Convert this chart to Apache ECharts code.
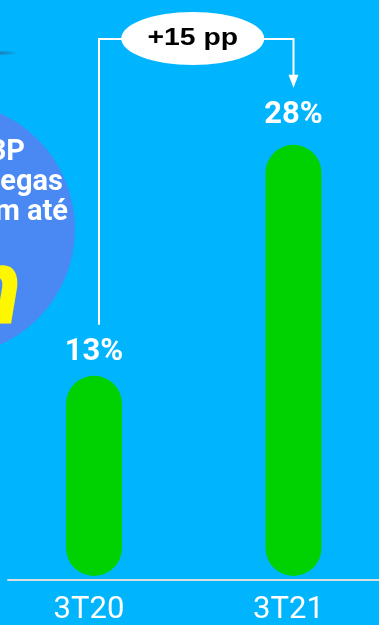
<!DOCTYPE html>
<html>
<head>
<meta charset="utf-8">
<script src="https://cdn.jsdelivr.net/npm/echarts@6/dist/echarts.min.js"></script>
<style>
  html, body { margin: 0; padding: 0; background: #00B5FE; }
  #chart { width: 379px; height: 625px; }
</style>
</head>
<body>
<div id="chart"></div>
<script>
// Quarterly share values (%)
const categories = ['3T20', '3T21'];
const shares = [13, 28];
const deltaText = '+15 pp';
// label gap above each bar (px)
const labelGaps = [8, 14];

// Decorative badge text on the left
const badgeLines = ['3P', 'egas', 'm até'];
const badgeHighlight = 'n';

const BG = '#00B5FE';
const GREEN = '#00D100';

const chart = echarts.init(document.getElementById('chart'), null, { renderer: 'canvas' });

const option = {
  backgroundColor: BG,
  animation: false,
  grid: [
    { left: -5.75, width: 399, top: 0, bottom: 49, outerBoundsMode: 'none', containLabel: false },
    { left: 8, right: 0, top: 0, bottom: 45, outerBoundsMode: 'none', containLabel: false }
  ],
  xAxis: [
    {
      type: 'category',
      gridIndex: 0,
      data: categories,
      axisLine: { show: false },
      axisTick: { show: false },
      axisLabel: {
        color: '#FFFFFF',
        fontFamily: 'Roboto',
        fontSize: 31,
        fontWeight: 'normal',
        margin: 19,
        padding: [0, 10, 0, 0]
      }
    },
    {
      type: 'category',
      gridIndex: 1,
      data: categories,
      axisLine: { show: true, lineStyle: { color: '#D9DEE3', width: 2 } },
      axisTick: { show: false },
      axisLabel: { show: false }
    }
  ],
  yAxis: [
    { type: 'value', gridIndex: 0, min: 0, max: 37.4, show: false, splitLine: { show: false } },
    { type: 'value', gridIndex: 1, show: false, splitLine: { show: false } }
  ],
  series: [
    {
      type: 'bar',
      xAxisIndex: 0,
      yAxisIndex: 0,
      barWidth: 56,
      data: shares.map((v, i) => ({
        value: v,
        label: { distance: labelGaps[i] }
      })),
      itemStyle: { color: GREEN, borderRadius: 28 },
      label: {
        show: true,
        position: 'top',
        color: '#FFFFFF',
        fontFamily: 'Roboto',
        fontWeight: 'bold',
        fontSize: 31,
        formatter: p => p.value + '%'
      }
    }
  ]
};

chart.setOption(option);

// Bracket connecting the two bars, with the change badge on top
const a = chart.convertToPixel({ gridIndex: 0 }, [0, shares[0]]);
const b = chart.convertToPixel({ gridIndex: 0 }, [1, shares[1]]);
const headY = 39;
const xLeft = a[0] + 5;
const xRight = b[0];
const leftEnd = a[1] - 51;
const arrowTip = b[1] - 57;
const arrowH = 13;
const midX = (a[0] + b[0]) / 2;

// baseline -> y for 'middle' aligned Roboto text
const mid = (baseline, size) => baseline - 0.35 * size;

const graphics = [
  // left badge disc
  {
    type: 'circle',
    z: 0,
    shape: { cx: -52, cy: 229, r: 127 },
    style: { fill: '#4A88F3' }
  },
  // faint streak at the top-left edge
  {
    type: 'rect',
    z: 0,
    shape: { x: -4, y: 51.5, width: 22, height: 3 },
    style: {
      fill: new echarts.graphic.LinearGradient(0, 0, 1, 0, [
        { offset: 0, color: 'rgba(40,80,120,0.55)' },
        { offset: 1, color: 'rgba(40,80,120,0)' }
      ]),
      shadowBlur: 3,
      shadowColor: 'rgba(40,80,120,0.4)'
    }
  },
  ...badgeLines.map((t, i) => ({
    type: 'text',
    z: 1,
    style: {
      text: t,
      x: [25, 63, 68][i],
      y: mid([163, 193, 223][i], 29),
      align: 'right',
      verticalAlign: 'middle',
      fill: '#FFFFFF',
      font: 'bold 29px Roboto'
    }
  })),
  {
    type: 'text',
    z: 1,
    style: {
      text: badgeHighlight,
      x: 22,
      y: mid(334, 108),
      align: 'right',
      verticalAlign: 'middle',
      fill: '#FFF700',
      font: 'italic bold 108px Roboto'
    }
  },
  // bracket
  {
    type: 'polyline',
    z: 5,
    shape: {
      points: [
        [xLeft, leftEnd],
        [xLeft, headY],
        [xRight, headY],
        [xRight, arrowTip - arrowH + 1]
      ]
    },
    style: { stroke: '#FFFFFF', lineWidth: 2, fill: null }
  },
  {
    type: 'polygon',
    z: 5,
    shape: {
      points: [
        [xRight - 5, arrowTip - arrowH],
        [xRight + 5, arrowTip - arrowH],
        [xRight, arrowTip]
      ]
    },
    style: { fill: '#FFFFFF' }
  },
  {
    type: 'ellipse',
    z: 6,
    shape: { cx: midX - 1, cy: 38.5, rx: 71.5, ry: 26.5 },
    style: { fill: '#FFFFFF' }
  },
  {
    type: 'text',
    z: 7,
    x: midX - 1,
    y: 38,
    scaleX: 1.18,
    style: {
      text: deltaText,
      x: 0,
      y: 0,
      align: 'center',
      verticalAlign: 'middle',
      fill: '#000000',
      font: 'bold 24px "Liberation Sans", Arial, sans-serif'
    }
  }
];

chart.setOption({ graphic: graphics });
</script>
</body>
</html>
